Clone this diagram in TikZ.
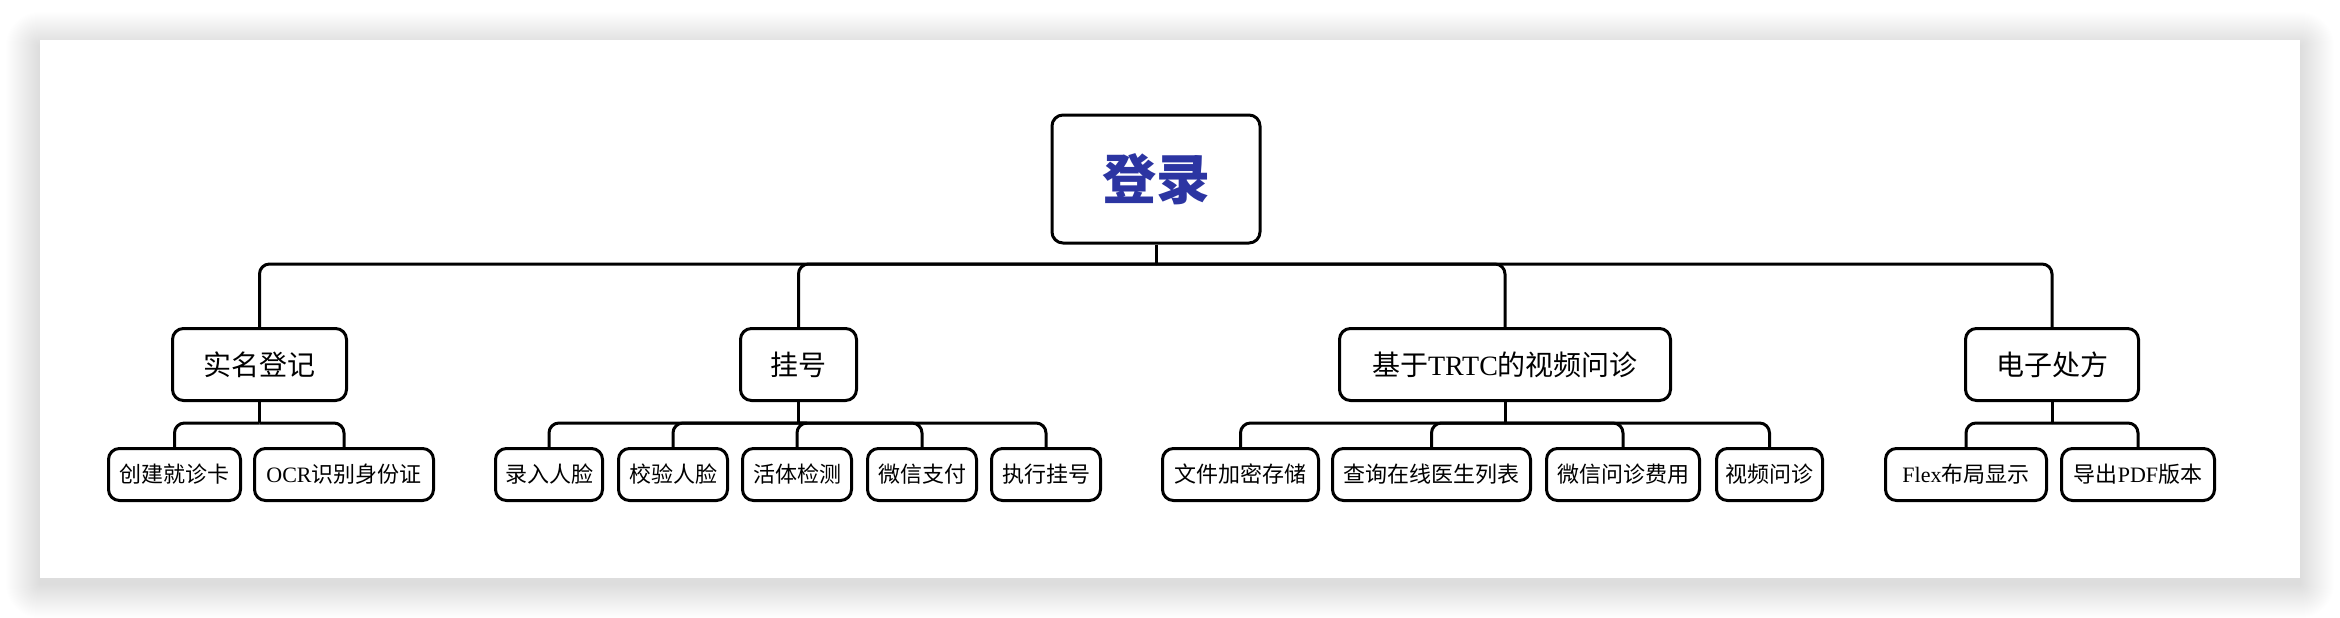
\documentclass[tikz,border=0pt]{standalone}
\usepackage{fontspec}
\setmainfont{Liberation Serif}
\newfontfamily\cjk{Noto Sans CJK SC}
\newcommand\lat[1]{{\rmfamily #1}}
\definecolor{rootblue}{HTML}{2C35A2}
\tikzset{
  box/.style={draw=black, line width=3pt, rounded corners=11pt, fill=white, inner sep=0pt, font=\cjk},
  rootbox/.style={box, minimum width=208pt, minimum height=128pt, font=\cjk\bfseries\fontsize{54}{60}\selectfont, text=rootblue},
  midbox/.style={box, minimum height=72pt, font=\cjk\fontsize{28}{32}\selectfont},
  leafbox/.style={box, minimum height=52pt, font=\cjk\fontsize{22}{26}\selectfont},
  conn/.style={draw=black, line width=3pt, rounded corners=10pt},
}
\begin{document}
\begin{tikzpicture}[x=1pt,y=-1pt]
\useasboundingbox (0,0) rectangle (2340,618);
\fill[white] (0,0) rectangle (2340,618);
% shadow of card
\foreach \i in {1,...,34}{
  \fill[black, opacity=0.004, rounded corners=\i pt] (40-\i,40-\i+6) rectangle (2300+\i,578+\i+6);
}
\fill[white] (40,40) rectangle (2300,578);
\coordinate (bar0) at (0,264);
\coordinate (bar1) at (0,423);
% root
\node[rootbox] (root) at (1156,179) {登录};
% level 1
\node[midbox, minimum width=174pt] (A) at (259.5,364.5) {实名登记};
\node[midbox, minimum width=116pt] (B) at (798.5,364.5) {挂号};
\node[midbox, minimum width=331pt] (C) at (1505,364.5) {基于\lat{TRTC}的视频问诊};
\node[midbox, minimum width=173pt] (D) at (2052,364.5) {电子处方};
% level 2
\node[leafbox, minimum width=132pt] (a1) at (174.5,474.5) {创建就诊卡};
\node[leafbox, minimum width=179pt] (a2) at (344,474.5) {\lat{OCR}识别身份证};
\node[leafbox, minimum width=107pt] (b1) at (549,474.5) {录入人脸};
\node[leafbox, minimum width=109pt] (b2) at (673,474.5) {校验人脸};
\node[leafbox, minimum width=109pt] (b3) at (797,474.5) {活体检测};
\node[leafbox, minimum width=109pt] (b4) at (922,474.5) {微信支付};
\node[leafbox, minimum width=109pt] (b5) at (1046,474.5) {执行挂号};
\node[leafbox, minimum width=156pt] (c1) at (1240.5,474.5) {文件加密存储};
\node[leafbox, minimum width=198pt] (c2) at (1431.5,474.5) {查询在线医生列表};
\node[leafbox, minimum width=153pt] (c3) at (1623,474.5) {微信问诊费用};
\node[leafbox, minimum width=106pt] (c4) at (1769.5,474.5) {视频问诊};
\node[leafbox, minimum width=161pt] (d1) at (1966,474.5) {\lat{Flex}布局显示};
\node[leafbox, minimum width=153pt] (d2) at (2138,474.5) {导出\lat{PDF}版本};
% connectors root -> level 1
\draw[conn] (root.south) -- (root.south |- bar0);
\foreach \n in {A,B,C,D}{
  \draw[conn] (bar0 -| root) -| (\n.north);
}
% level 1 -> level 2
\foreach \p/\kids in {A/{a1,a2}, B/{b1,b2,b3,b4,b5}, C/{c1,c2,c3,c4}, D/{d1,d2}}{
  \draw[conn] (\p.south) -- (\p.south |- bar1);
  \foreach \k in \kids{
    \draw[conn] (bar1 -| \p) -| (\k.north);
  }
}
\end{tikzpicture}
\end{document}
